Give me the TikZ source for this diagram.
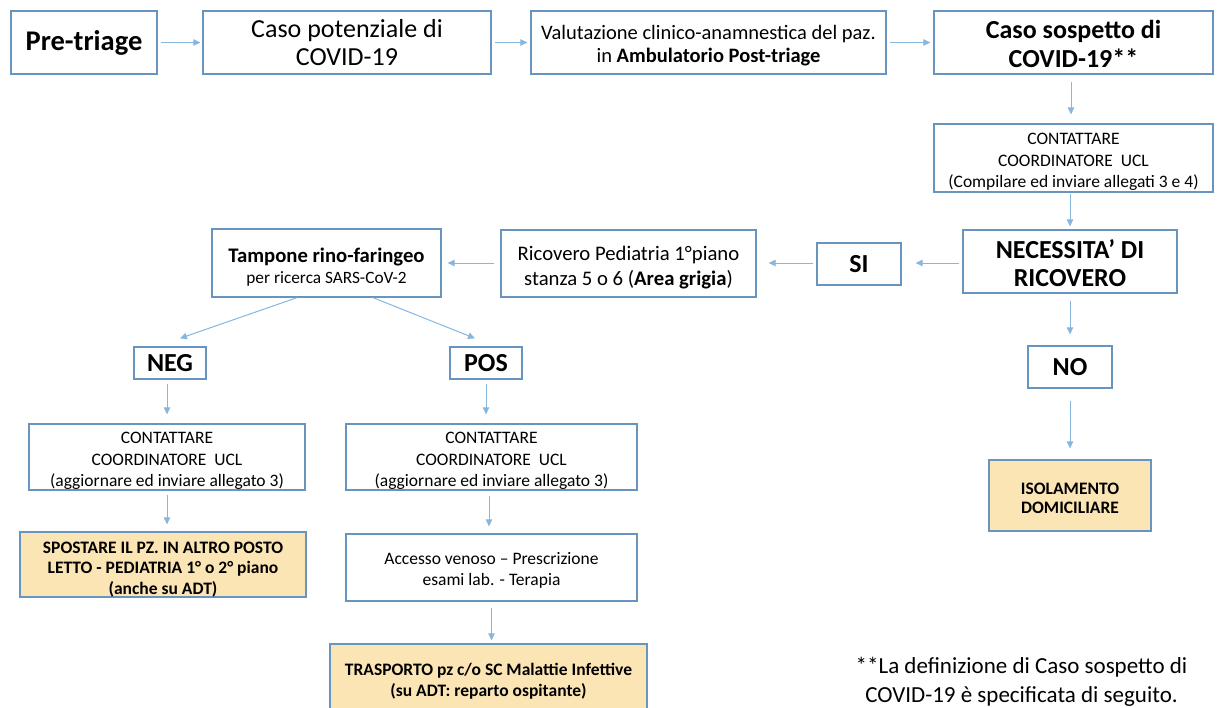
\documentclass[tikz,border=0pt]{standalone}
\usepackage{fontspec}
\setmainfont{Carlito}
\usetikzlibrary{arrows.meta}
\definecolor{bordc}{RGB}{104,148,192}
\definecolor{arrc}{RGB}{135,182,222}
\definecolor{fillc}{RGB}{252,229,180}
\newcommand{\fz}[2]{\fontsize{#1}{#2}\selectfont}
\tikzset{
  box/.style={draw=bordc, line width=1.3pt, inner sep=0pt, align=center, fill=white},
  fbox/.style={box, fill=fillc},
  txt/.style={align=center, inner sep=0pt},
  arr/.style={draw=arrc, line width=1pt, -{Triangle[length=7pt,width=6.5pt]}},
}
\begin{document}
\begin{tikzpicture}[x=1pt,y=-1pt]
\useasboundingbox[fill=white] (0,0) rectangle (1218,707);
% top row
\node[box, minimum width=146pt, minimum height=63pt, font=\fz{28.5}{30}\bfseries] (pre) at (84,42.5) {Pre-triage};
\node[box, minimum width=288pt, minimum height=63pt, font=\fz{26}{28}] (caso) at (347,42.5) {Caso potenziale di\\COVID-19};
\node[box, minimum width=355pt, minimum height=63pt] (valut) at (708.5,42.5) {};
\node[txt, font=\fz{20.5}{23}] (valutt) at ([yshift=-3pt]valut.center) {Valutazione clinico-anamnestica del paz.\\in \textbf{Ambulatorio Post-triage}};
\node[box, minimum width=279pt, minimum height=63pt] (sosp) at (1073.5,42.5) {};
\node[txt, font=\fz{26}{29}\bfseries] (sospt) at ([yshift=-1pt]sosp.center) {Caso sospetto di\\COVID-19**};
% right column
\node[box, minimum width=279pt, minimum height=68pt] (cont1) at (1073.5,158) {};
\node[txt, font=\fz{17.5}{21.5}] (cont1t) at ([yshift=-4pt]cont1.center) {CONTATTARE\\COORDINATORE\ \ UCL\\(Compilare ed inviare allegati 3 e 4)};
\node[box, minimum width=214pt, minimum height=63pt] (nec) at (1070,261.5) {};
\node[txt, font=\fz{26}{28}\bfseries] (nect) at ([yshift=-2pt]nec.center) {NECESSITA’ DI\\RICOVERO};
\node[box, minimum width=84pt, minimum height=42pt, font=\fz{26}{28}\bfseries] (si) at (859,264) {SI};
\node[box, minimum width=255pt, minimum height=67pt] (ric) at (628.5,263.5) {};
\node[txt, font=\fz{20.7}{25}] (rict) at ([yshift=-4pt]ric.center) {Ricovero Pediatria 1°piano\\stanza 5 o 6 (\textbf{Area grigia})};
\node[box, minimum width=229pt, minimum height=68pt] (tamp) at (326.5,263) {};
\node[txt, font=\fz{17.3}{21}] (tampt) at ([yshift=-4pt]tamp.center) {{\fz{20.7}{21}\bfseries Tampone rino-faringeo}\\per ricerca SARS-CoV-2};
\node[box, minimum width=84pt, minimum height=42pt, font=\fz{26}{28}\bfseries] (no) at (1070,367) {NO};
\node[fbox, minimum width=162pt, minimum height=71pt] (iso) at (1070,495.5) {};
\node[txt, font=\fz{17.5}{19.5}\bfseries] (isot) at ([yshift=-3pt]iso.center) {ISOLAMENTO\\DOMICILIARE};
% left branches
\node[box, minimum width=72pt, minimum height=32pt, font=\fz{26}{28}\bfseries] (neg) at (170,363) {NEG};
\node[box, minimum width=72pt, minimum height=32pt, font=\fz{26}{28}\bfseries] (pos) at (486,363) {POS};
\node[box, minimum width=276pt, minimum height=66pt] (cont2) at (167,457) {};
\node[txt, font=\fz{17.5}{21.5}] (cont2t) at ([yshift=-4pt]cont2.center) {CONTATTARE\\COORDINATORE\ \ UCL\\(aggiornare ed inviare allegato 3)};
\node[box, minimum width=291pt, minimum height=66pt] (cont3) at (491.5,457) {};
\node[txt, font=\fz{17.5}{21.5}] (cont3t) at ([yshift=-4pt]cont3.center) {CONTATTARE\\COORDINATORE\ \ UCL\\(aggiornare ed inviare allegato 3)};
\node[fbox, minimum width=286pt, minimum height=65pt] (spost) at (163,564.5) {};
\node[txt, font=\fz{17.5}{20.5}\bfseries] (spostt) at ([yshift=-5pt]spost.center) {SPOSTARE IL PZ. IN ALTRO POSTO\\LETTO - PEDIATRIA 1° o 2° piano\\(anche su ADT)};
\node[box, minimum width=291pt, minimum height=67pt] (acc) at (491.5,567.5) {};
\node[txt, font=\fz{17.5}{21}] (acct) at ([yshift=-3pt]acc.center) {Accesso venoso – Prescrizione\\esami lab. - Terapia};
\node[fbox, minimum width=317pt, minimum height=71pt] (trasp) at (488.5,679.5) {};
\node[txt, font=\fz{17.5}{21}\bfseries] (traspt) at ([yshift=-1.5pt]trasp.center) {TRASPORTO pz c/o SC Malattie Infettive\\(su ADT: reparto ospitante)};
\node[txt, font=\fz{23}{29}] (foot) at (1021.5,682) {**La definizione di Caso sospetto di\\COVID-19 è specificata di seguito.};
% arrows
\draw[arr, shorten <=3pt, shorten >=2pt] (pre) -- (caso);
\draw[arr, shorten <=3pt, shorten >=3pt] (caso) -- (valut);
\draw[arr, shorten <=3pt, shorten >=3pt] (valut) -- (sosp);
\draw[arr, shorten <=7pt, shorten >=9pt] ([xshift=-2.5pt]sosp.south) -- ([xshift=-2.5pt]cont1.north);
\draw[arr, shorten <=1pt, shorten >=3pt] (nec.north |- cont1.south) -- (nec.north);
\draw[arr, shorten <=3pt, shorten >=14pt] ([yshift=-1.5pt]nec.west) -- ([yshift=-1.5pt]nec.west -| si.east);
\draw[arr, shorten <=3pt, shorten >=12pt] ([yshift=1pt]si.west) -- ([yshift=1pt]si.west -| ric.east);
\draw[arr, shorten <=6pt, shorten >=6pt] ([yshift=0.5pt]ric.west) -- ([yshift=0.5pt]ric.west -| tamp.east);
\draw[arr] ([xshift=-29.5pt]tamp.south) -- ([xshift=10pt,yshift=8pt]neg.north);
\draw[arr] ([xshift=46.5pt]tamp.south) -- ([xshift=-11pt,yshift=8pt]pos.north);
\draw[arr, shorten <=7pt, shorten >=11pt] (nec.south) -- (no.north);
\draw[arr, shorten <=12pt, shorten >=11pt] (no.south) -- (iso.north);
\draw[arr, shorten <=4pt, shorten >=9pt] (cont2.north |- neg.south) -- (cont2.north);
\draw[arr, shorten <=4pt, shorten >=9pt] (pos.south) -- (pos.south |- cont3.north);
\draw[arr, shorten <=4pt, shorten >=7pt] (cont2.south) -- (cont2.south |- spost.north);
\draw[arr, shorten <=5pt, shorten >=7pt] ([xshift=-2.5pt]cont3.south) -- ([xshift=-2.5pt]acc.north);
\draw[arr, shorten <=6pt, shorten >=3pt] (acc.south) -- (acc.south |- trasp.north);
\end{tikzpicture}
\end{document}
